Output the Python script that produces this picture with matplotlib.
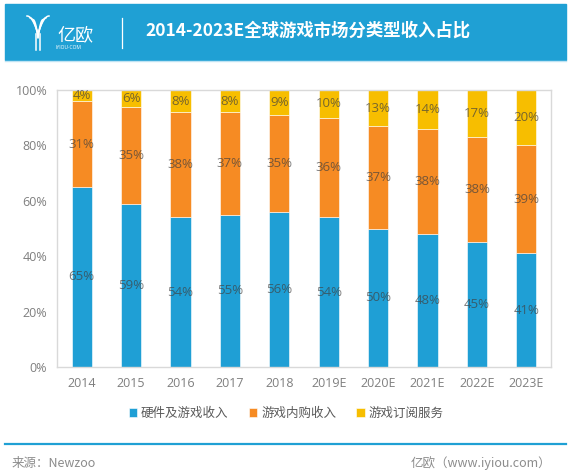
"""
2014-2023E 全球游戏市场分类型收入占比 (堆叠柱状图)
"""

import matplotlib.pyplot as plt
import numpy as np

plt.rcParams['font.family'] = ['Open Sans', 'Noto Sans CJK SC', 'DejaVu Sans']

years = ['2014', '2015', '2016', '2017', '2018', '2019E', '2020E', '2021E', '2022E', '2023E']
hardware = [65, 59, 54, 55, 56, 54, 50, 48, 45, 41]
in_app = [31, 35, 38, 37, 35, 36, 37, 38, 38, 39]
subscription = [4, 6, 8, 8, 9, 10, 13, 14, 17, 20]
series_names = ['硬件及游戏收入', '游戏内购收入', '游戏订阅服务']
colors = ['#1f9fd5', '#f68b23', '#f7be00']

W, H = 572, 473
fig = plt.figure(figsize=(W / 100, H / 100), dpi=100)

# 背景层 (像素坐标)
bg = fig.add_axes([0, 0, 1, 1])
bg.set_xlim(0, W)
bg.set_ylim(H, 0)
bg.axis('off')

# 顶部标题栏
bg.add_patch(plt.Rectangle((5, 4), 561, 56, color='#1fa0d4', zorder=0))
bg.plot([5, 566], [61, 61], color='#bfe3f3', lw=1)
# logo
t = np.linspace(0, 1, 30)
for off in [0, 3, 6]:
    xs = 27 + off + (38 - 27 - off) * t
    ys = 16 + off * 0.6 + 18 * t ** 2
    bg.plot(xs, ys, color='white', lw=1.1)
    bg.plot(76 - xs, ys, color='white', lw=1.1)
bg.plot([36, 36], [34, 50], color='white', lw=1.1)
bg.plot([40, 40], [34, 50], color='white', lw=1.1)
bg.text(57, 35, '亿欧', color='white', fontsize=13, va='center', ha='left',
        family=['Noto Sans CJK SC'], fontweight='light')
bg.text(56, 47.5, 'IYIOU·COM', color='white', fontsize=3.6, va='center', ha='left')
bg.plot([122, 122], [18, 48], color='white', lw=0.9)
bg.text(145, 31, '2014-2023E全球游戏市场分类型收入占比', color='white', fontsize=12.5,
        fontweight='bold', va='center', ha='left', family=['Noto Sans CJK SC'])

# 底部
bg.plot([5, 566], [444, 444], color='#1fa0d4', lw=1.6)
bg.text(12, 463, '来源：Newzoo', color='#8c8c8c', fontsize=9, va='center', ha='left',
        family=['Noto Sans CJK SC'])
bg.text(551, 463, '亿欧（www.iyiou.com）', color='#8c8c8c', fontsize=9, va='center',
        ha='right', family=['Noto Sans CJK SC'])

# 主图
ax = fig.add_axes([57 / W, (H - 367) / H, 494 / W, 277 / H])
x = np.arange(len(years))
bottom = np.zeros(len(years))
for vals, name, c in zip([hardware, in_app, subscription], series_names, colors):
    vals = np.array(vals)
    ax.bar(x, vals, 0.41, bottom=bottom, color=c, edgecolor='#ffffff', linewidth=0.4,
           label=name)
    for xi, b, v in zip(x, bottom, vals):
        ax.text(xi, b + v / 2, f'{v}%', ha='center', va='center', fontsize=9.5,
                color='#404040', alpha=0.7)
    bottom += vals

ax.set_xlim(-0.5, len(years) - 0.5)
ax.set_ylim(0, 100)
ax.set_yticks(range(0, 101, 20))
ax.set_yticklabels([f'{v}%' for v in range(0, 101, 20)])
ax.set_xticks(x)
ax.set_xticklabels(years)
ax.tick_params(length=0, labelsize=9, labelcolor='#7f7f7f')
ax.tick_params(axis='x', pad=7)
ax.tick_params(axis='y', pad=7)
for s in ax.spines.values():
    s.set_color('#d9d9d9')
    s.set_linewidth(1)

leg = fig.legend(loc='center', bbox_to_anchor=(286 / W, 1 - 413 / H), ncol=3, frameon=False,
                 handlelength=0.7, handleheight=0.7, handletextpad=0.3, columnspacing=1.6,
                 prop={'family': ['Noto Sans CJK SC'], 'size': 9})
for txt in leg.get_texts():
    txt.set_color('#595959')

plt.savefig('out.png', dpi=100)
